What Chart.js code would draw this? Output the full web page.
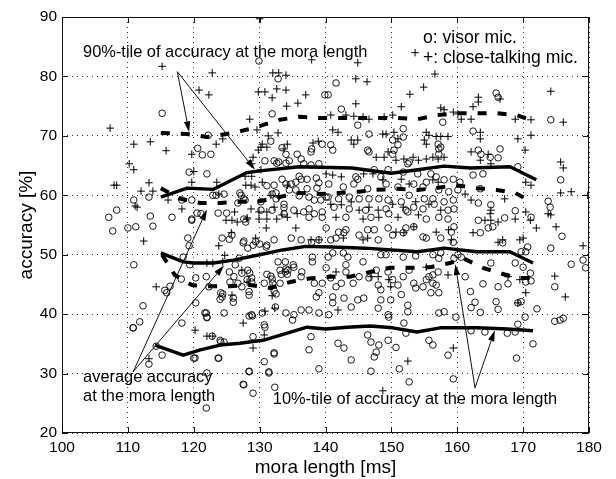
<!DOCTYPE html>
<html>
<head>
<meta charset="utf-8">
<script src="https://cdn.jsdelivr.net/npm/chart.js@4.4.1/dist/chart.umd.min.js"></script>
<style>
  html, body { margin: 0; padding: 0; background: #fff; }
  #c { display: block; }
</style>
</head>
<body>
<canvas id="c" width="616" height="479"></canvas>
<script>
// ---------- axis ticks ----------
const xTicks = [100, 110, 120, 130, 140, 150, 160, 170, 180];
const yTicks = [20, 30, 40, 50, 60, 70, 80, 90];

// ---------- scatter: visor mic (o) as [mora length, accuracy] ----------
const visorPoints = [
[115.2,73.8],[119.3,63.9],[110.9,59.2],[113.2,59.7],[108.3,57.5],[107.1,56.3],[113.4,56.5],[116.7,56.3],[119.7,56],[119.7,59.2],
[129.9,82.6],[122.2,70.1],[120.6,67.9],[121.3,66.8],[122,63.6],[107.7,54],[110,54.5],[111.2,54.7],[113.8,54.8],[118.2,59.2],
[122.9,60],[127,60.4],[119.7,55.8],[120.5,57],[123.7,57],[125,57],[126.7,58.7],[127.8,59.2],[131.1,61.6],[131.9,60.2],
[132.5,60.4],[130.8,65.8],[131.7,69.1],[131.9,73.7],[132.8,79.6],[133.4,68],[134,66.9],[134.5,65.8],[132.9,65.6],[139.9,76.9],
[137.8,67.3],[137.9,67.8],[139.5,68.6],[122.6,66.9],[132.2,65.8],[132.6,65.4],[134,65.4],[135.7,66.9],[136.3,66.1],[136.7,65.3],
[137.8,65.1],[139,65.3],[136,63.2],[136.3,62.7],[135.5,62.2],[137.2,62.7],[138.6,62.9],[139,62.1],[133.4,62.7],[134,61.9],
[134.8,61.9],[132.2,61.7],[134.5,60.9],[135.5,60.9],[137.2,61.1],[138.7,61.2],[136,59.9],[137.5,59.7],[138.3,59.2],[139.3,59.2],
[140.1,59.7],[123.4,60],[124.6,60.2],[127.2,60],[127.6,59.4],[130.2,58.9],[132.5,59.4],[133.7,58.5],[130.2,57.5],[131.9,57.5],
[133.7,57.9],[133.7,56.9],[135.2,57.5],[136.7,57.2],[137.5,57.7],[138.3,56.9],[139.5,57.2],[139.5,56.3],[137.5,56.3],[121.1,56.9],
[127.6,56],[127.9,55.5],
[141.6,78.9],[140.4,76.9],[142.4,74.5],[144.9,71.8],[151.8,71.2],[157.8,72.3],[146.6,70.3],[151.8,69.8],[150.2,69.3],[157.1,68.6],
[157.2,67.8],[140.8,68.5],[141.1,67.6],[146.4,67.6],[146.6,67.3],[150.2,66.9],[151,68.5],[150.4,67.6],[152.5,65.3],[152.7,65.6],
[157.2,66.9],[157.5,68.1],[147.4,64.3],[149.5,64.3],[151.8,63.9],[154,63.6],[156,63.6],[156.8,63.1],[158,62.6],[159.4,62.7],
[144.6,63.1],[144.9,62.7],[148.4,63.1],[140.5,61.9],[142.7,61.4],[144.3,61.9],[146.4,61.1],[149.2,61.9],[151,61.4],[153.4,61.9],
[154.8,61.4],[155.3,62.2],[157.2,60.9],[158.7,60.6],[140.4,59.7],[142,59.4],[143.6,59.7],[145.1,59.4],[146.6,59.4],[148.1,59.4],
[149.5,59.2],[151.5,58.9],[152.7,60],[155,59.4],[156.3,59.4],[158,58.9],[159.4,59.2],[141.3,58],[143.6,57.7],[146.1,57.5],
[149.2,57.7],[152.2,57.5],[154.8,57.7],[156.5,58.5],[158.6,57.5],[159.5,57.7],[143.1,56.3],[146.9,56.3],[149.6,56.9],[152.5,57.2],
[153.4,58],[155.3,56],[157.2,56.3],[158.6,56],
[165.9,77.2],[166.2,76.5],[174.2,72.7],[162.4,70.8],[163.2,67.6],[166.5,67.8],[165,66.4],[166.2,66.3],[163.6,66.9],[175.7,62.6],
[162.4,63.4],[163.9,63.6],[169.2,64.8],[160.4,62.2],[160.1,60.9],[163.5,61.1],[163.2,58.7],[165.1,58.4],[168.8,57.4],[171.2,56.3],
[173.8,59],[174.1,58],[163.2,55.8],[167.2,56.2],
[119.1,52.8],[119.3,51.5],[118.4,49.6],[119.4,48.3],[110.9,48.3],[118.1,45.9],[115.6,44],[116.4,44.7],[115.9,43.6],[112.3,41.4],
[111.8,38.7],[110.8,37.7],[118.2,38.5],[114.3,34.6],[115.2,33.1],[113.2,31.6],[120.3,41.9],[120.2,32.6],[121.7,40.2],[122,39.5],
[121.9,24.2],[122,30.1],[123.7,32.6],[124,35.6],[124.6,40.2],[124.4,43.4],[124,42.5],[126,42.7],[126,42],[125.5,45.4],
[126.7,45.2],[127.5,28.2],[128.4,30.4],[129,26.7],[129,36.2],[128.4,39.7],[128.9,39.7],[128.4,43.2],[131.4,30.1],[132.2,33.3],
[132.3,27.7],[130.7,32],[130.8,37.8],[132.4,41.2],[128.8,45.4],[128.8,46.1],[128.5,46.9],[127.3,46.9],[128.2,47.4],[132,45.2],
[133.1,45.2],[131.9,45.9],[133.1,47.4],[133.9,47.1],[134.3,47.4],[135.1,48.3],[133.9,48.8],[132.8,48.8],[126.3,48.3],[126.9,49.4],
[127.5,52],[129,51.6],[130,51.8],[131.1,51.6],[128.2,51.1],
[124.3,52.8],[125.4,52.6],[125.8,53.3],[127.6,52.3],[129.4,52.2],[131,51.3],[132.2,52.5],[134.8,52.8],[136.3,52.5],[137.9,52.1],
[139,52.5],[120.3,46.1],[121.9,46.3],[122.3,44.6],[124.1,43.6],[124.3,42.9],[125.4,47.1],[126.1,46.3],[127.3,44.6],[128.1,45.8],
[128.4,43.8],[130.7,45.2],[131.1,46.7],[131.7,46.4],[132.2,43.9],[132.5,43.4],[133.3,46.7],[134.2,46.7],[134,47.6],[135.2,47.9],
[136.3,46.3],[136.4,47.1],[138,49.6],[138,48.8],[138.3,45.2],[138.6,42.9],[139,43.6],[139.5,45.2],[121.9,40.2],[122,39.4],
[128.8,39.9],[130.4,40.2],[134,40.2],[135,39],[135.2,39.9],[136.3,40.7],[137.5,40.7],[139,40.2],[130.7,38.2],[132.2,33.5],
[131.4,30.3],[128.4,30.3],[127.6,28.1],[123.8,32.6],[137.5,34],[137.8,36.2],[139,30.8],[122.8,36.3],[124.6,35.3],[124.1,35.3],
[120,32.6],[110.8,37.7],
[140.1,54.5],[140.8,52.5],[141.6,52.8],[142.8,53.7],[143.1,54.2],[142,53.8],[145.1,53.3],[146.4,54.2],[147.4,54.2],[148,52.5],
[149.5,54.5],[150.2,53.3],[151.8,53.7],[152.2,54.5],[153.4,54.7],[154.8,53],[155.3,52.8],[157.5,52.8],[159.1,53.8],[159.4,52.1],
[159.5,54.7],[140.4,49.6],[141.1,50.3],[142.7,50.3],[143.4,49.6],[145.7,48.8],[148.4,50],[149.2,50],[151.8,49.6],[153.7,49.8],
[156.3,50],[157.2,49.4],[157.5,50.3],[159.5,49.4],[160.1,50],[140.1,47.8],[140.8,46.1],[141.6,44.6],[142.4,45.2],[143.1,48.3],
[143.1,47.1],[144.2,45.2],[145.1,46.3],[146.6,46.1],[147.7,47.4],[148,44.9],[148.4,44.1],[149.5,47.1],[150.2,45.8],[151,44.9],
[151.8,46.3],[151.5,43.3],[152.7,47.4],[153.4,45.2],[153.7,44.4],[154.8,44.6],[155.3,45.8],[155.7,46.3],[156.3,46.6],[156.3,45.2],
[156.8,44.9],[157.2,43.6],[156,43.6],[157.1,47.1],[141.1,42.9],[141.1,41.9],[140.5,39.9],[142.8,42.7],[143.9,41.2],[144.9,42.4],
[145.8,42.7],[148,41],[148.4,42.4],[149.9,42.4],[152.5,41.5],[152.5,40.4],[149.5,39.9],[149.6,39.5],[157.2,40.2],[158,40.4],
[159.8,39.5],[141.9,35.1],[142.8,34.3],[143.9,32.3],[146.4,36.5],[146.9,35.3],[147.4,32.8],[147.7,33.6],[148.1,34.8],[149.5,35.6],
[150.7,34.4],[151.9,38.5],[152.2,36.8],[151.2,30.8],[146.9,30.4],[152.7,28.6],[155.7,35.6],[156.3,34.8],[158.6,33.1],[159.4,29.1],
[163.5,53.7],[164.7,54.5],[165.4,54.7],[166.9,52],[169.7,50.5],[170.4,50.5],[170.7,51.3],[174.2,51.1],[175.9,53.1],[179.1,49.1],
[179.5,47.8],[177.3,48.4],[160.6,49.6],[165.1,48.6],[168.8,48.6],[170,47.9],[171.1,46.9],[161.2,46.3],[163.9,45.1],[166.2,44.6],
[167.7,45.1],[170.4,45.4],[171.2,45.6],[174.8,44.6],[162,43.8],[162.1,41.1],[162.7,42],[163.5,40.3],[165.9,42.1],[166.2,40.8],
[169.2,41.9],[169.7,42.1],[172.1,40.9],[170.3,39.5],[169.2,38.3],[174.8,38.8],[175.6,39],[176.1,39.3],[162.1,37.2],[164.2,37],
[167.6,36.8],[168.8,37],[171.5,35],[169,32.6]
];

// ---------- scatter: close-talking mic (+) ----------
const closePoints = [
[115.2,81.7],[107.3,71.3],[110.9,68.6],[113.4,69],[115.8,67.5],[119.7,66.9],[110.2,65.3],[110.9,64.3],[120,64],[107.9,61.7],
[108.3,61.7],[113.2,62.1],[112,60.7],[113.8,60.7],[111.1,58.2],[111.4,58],[118.2,57.7],[116.1,59.2],[120.8,77.7],[122.3,76.9],
[122.8,80.6],[130,89.7],[123.4,68.6],[119.7,62.2],[123.5,62.2],[123.8,60.2],[125.8,55.8],[126.6,55.5],[128.1,56.2],[126.2,57.2],
[129.3,61.4],[130.4,62.2],[128.8,65.3],[129,66.4],[129.8,67.6],[130.2,68.1],[131.1,68.1],[129.8,77.4],[130.8,77.4],[132.6,77.9],
[134,77.7],[131.9,76.4],[134.1,75],[135.8,75.5],[137,76.9],[132,80.6],[132.9,80.6],[134,80.2],[128.5,72.8],[129.6,71],
[131.3,70],[132.8,70.5],[124.4,69.5],[130.4,68.6],[134.2,68.6],[133.7,67.8],[138.1,68.8],[138.9,69.1],[127.8,63.2],[128.8,63.2],
[130.2,64.3],[127.9,61.7],[128.7,61.7],[131.7,60],[132.9,59.7],[134.2,61.7],[128.7,57.7],[129.9,57.2],[131.1,57.2],[132.2,58],
[124.9,55.8],[128.1,56],[129.9,56],[131.1,56],[132.6,56],[134.2,56.3],[135.7,56.9],[133.4,56.7],
[144.9,82.3],[144.6,79.6],[146.3,79.1],[156.6,80.4],[154.9,78.2],[152.8,77],[144.6,75.4],[151.5,74.9],[140.8,73.5],[143.1,73.5],
[144.3,73.3],[145.7,73.2],[146.6,72.8],[148.9,73.2],[150.2,73.5],[157.5,74.7],[158,74.4],[159.4,74],[160.1,73.7],[141.1,71],
[141.9,70.6],[143.9,69.3],[144.9,69.3],[144.3,68.6],[148.7,70.3],[149.2,70.3],[150.4,70.6],[151,69.5],[155.3,70.6],[155.7,70.1],
[156.8,69.9],[157.5,69.9],[158.6,69.9],[155,69.3],[155.3,68.6],[147.7,66.4],[148.9,66.4],[149.5,67.3],[150.7,65.9],[151.9,66.1],
[153.3,66.4],[154.1,65.9],[155.3,66.1],[156.3,66.4],[157.1,66.1],[158,66.4],[140.1,63.6],[141.1,63.4],[142.4,63.1],[145.8,63.6],
[147.2,63.6],[148.7,62.6],[151.5,62.7],[152.7,61.9],[156.3,62.6],[157.1,62.2],[140.8,58.5],[142.4,58.4],[143.9,58.9],[145.1,57.5],
[146.6,58],[148,57.5],[150.2,58.5],[151.8,58],[153.7,58.9],[155.7,58.5],[157.5,57.5],[141.6,56.3],[145.7,56],[148.1,56.3],
[151,56.3],[154.1,56.7],[153.6,84],[137.9,82.8],
[174.2,77.5],[166.5,76.2],[163.2,76.5],[162.4,74.9],[163.2,75.7],[176.1,72.3],[168.8,72.8],[171.2,72.7],[160.6,72.8],[162.1,72.8],
[163.5,70.6],[163.5,69.5],[169.2,69.5],[171.2,70.1],[162.1,67.3],[164.7,66.9],[170.3,67.6],[163.5,65.9],[165.1,65.3],[175.7,65.6],
[176.1,64.6],[170.4,62.2],[171.2,61.7],[175.7,60.4],[177.3,60.6],[179.8,60],[161.2,60.2],[162.1,59.2],[167.2,59.4],[165.1,57.5],
[165,56.9],[170.4,57.2],[173.8,56.9],[174.2,56.7],[168.8,56],[171.1,55.8],[164.2,55.8],[165.1,55.8],[166.2,55.5],
[112.4,52.3],[114.3,44.6],[113.2,32.5],[120.2,37.3],[122,36.3],[122.9,36.3],[125.8,43.2],[129,34.3],[127.5,38.5],[130.8,40.5],
[132.3,41],[128.1,45.4],[131.9,44.6],[131.9,43.1],[127.3,47.4],[124.4,48.8],[124.7,49.9],[123.8,51.5],[125.7,53.7],[129.4,52.8],
[131,54.5],[135.5,54.5],[137.8,52.5],[139,52.5],[130.7,36.5],[122,48.6],[122.9,48.6],[142.7,52.8],[145.7,52.5],[146.4,52.8],
[150.7,53.8],[151.9,53.7],[153.4,54.7],[156.8,53.8],[158.7,54.2],[159.1,52.5],[141.6,47.1],[146.9,46.3],[148,46.3],[149.6,45.8],
[149.9,44.6],[155.3,47.9],[158.6,46.6],[141.9,40.7],[152.5,32.1],[159.4,34.3],[148.7,27.1],[162.4,53.7],[166.2,52.1],[166.9,52.5],
[169.5,52.5],[170,52.8],[172,54.5],[175,54.7],[179.1,51.5],[167.7,46.3],[169.5,45.8],[170.4,43.6],[174.8,46.4],[176.4,42.9],
[169.2,41.9]
];

// ---------- percentile / average curves ----------
const visor90X  = [115, 119, 123, 128, 130, 136, 144, 150, 154, 158, 162, 168, 172];
const visor90Y  = [59.7, 61.2, 61.0, 63.8, 64.1, 64.8, 64.6, 63.7, 64.3, 64.9, 64.6, 64.8, 62.6];
const close90X  = [115, 119, 122, 126, 129, 133, 136, 139, 142, 145, 148, 151, 154, 157, 160, 163, 166, 169, 171.5];
const close90Y  = [70.5, 70.3, 69.8, 70.5, 71.3, 72.7, 73.2, 73.0, 73.0, 73.0, 73.0, 73.0, 72.8, 73.5, 73.8, 73.8, 73.8, 73.5, 72.5];
const visorAvgX = [115, 118.4, 120, 123, 126, 130, 133.5, 137, 141, 146, 154, 158, 163, 168, 171.5];
const visorAvgY = [50.3, 48.8, 48.6, 48.6, 49.1, 50.0, 50.8, 51.4, 51.3, 51.1, 50.5, 51.1, 50.5, 50.5, 48.6];
const closeAvgX = [115, 118, 121, 124, 127, 130, 133, 136, 139, 142, 145, 147.5, 151, 154, 156.6, 159.7, 163, 166, 168.8, 171.5];
const closeAvgY = [61.2, 59.4, 58.7, 58.7, 58.9, 59.0, 59.7, 60.4, 60.2, 60.4, 60.6, 60.9, 61.1, 60.9, 61.2, 61.7, 61.2, 60.9, 60.4, 58.7];
const visor10X  = [114.1, 118.4, 121, 124, 127, 130.5, 134.2, 137.2, 140, 143.3, 146.8, 150.2, 153.9, 157.4, 163, 167.6, 171.5];
const visor10Y  = [34.8, 33.1, 34.0, 34.8, 35.1, 35.6, 36.8, 37.8, 37.5, 37.8, 38.0, 37.7, 37.0, 37.7, 37.7, 37.5, 37.2];
const close10X  = [115.2, 117.1, 119.7, 122.2, 125.5, 128.5, 131.6, 134.6, 137.5, 140.7, 143.7, 146.8, 149.8, 152.8, 155.9, 158.9, 160.9, 163.9, 166.5, 169, 171.2];
const close10Y  = [50.0, 46.6, 44.9, 44.7, 44.7, 44.9, 44.4, 45.4, 46.0, 46.3, 46.3, 47.1, 47.8, 47.8, 47.9, 48.6, 49.4, 47.8, 46.9, 46.1, 46.1];

// ---------- annotation texts ----------
const legendLines = ['o: visor mic.', '+: close-talking mic.'];
const note90 = '90%-tile of accuracy at the mora length';
const noteAvg = ['average accuracy', 'at the mora length'];
const note10 = '10%-tile of accuracy at the mora length';

const FONT = '"Liberation Sans", Arial, Helvetica, sans-serif';
const toXY = (xs, ys) => xs.map((x, i) => ({ x: x, y: ys[i] }));
const toPts = arr => arr.map(p => ({ x: p[0], y: p[1] }));

function lineDs(xs, ys, dashed) {
  return {
    data: toXY(xs, ys), showLine: true, pointRadius: 0, borderColor: '#000',
    borderWidth: dashed ? 4 : 3.4, borderDash: dashed ? [9, 11] : [],
    borderCapStyle: 'butt', borderJoinStyle: 'round', tension: 0, fill: false, order: 0
  };
}

// annotation plugin: box, inward ticks, texts, arrows
const annot = {
  id: 'annot',
  afterDraw(chart) {
    const { ctx, chartArea: a, scales: { x, y } } = chart;
    ctx.save();
    // frame
    ctx.strokeStyle = '#111';
    ctx.lineWidth = 1;
    ctx.setLineDash([]);
    ctx.strokeRect(a.left + 0.5, a.top + 0.5, a.right - a.left - 1, a.bottom - a.top - 1);
    // inward ticks
    const tl = 6;
    ctx.beginPath();
    xTicks.forEach(v => {
      const px = Math.round(x.getPixelForValue(v)) + 0.5;
      ctx.moveTo(px, a.bottom); ctx.lineTo(px, a.bottom - tl);
      ctx.moveTo(px, a.top); ctx.lineTo(px, a.top + tl);
    });
    yTicks.forEach(v => {
      const py = Math.round(y.getPixelForValue(v)) + 0.5;
      ctx.moveTo(a.left, py); ctx.lineTo(a.left + tl, py);
      ctx.moveTo(a.right, py); ctx.lineTo(a.right - tl, py);
    });
    ctx.stroke();

    const P = (dx, dy) => [x.getPixelForValue(dx), y.getPixelForValue(dy)];
    // texts
    ctx.fillStyle = '#000';
    ctx.textBaseline = 'middle';
    ctx.textAlign = 'left';
    ctx.font = '16.4px ' + FONT;
    let p = P(103.2, 84.1); ctx.fillText(note90, p[0], p[1]);
    p = P(103.2, 29.3); ctx.fillText(noteAvg[0], p[0], p[1]);
    p = P(103.2, 26.1); ctx.fillText(noteAvg[1], p[0], p[1]);
    p = P(132.0, 25.6); ctx.fillText(note10, p[0], p[1]);
    ctx.font = '17.6px ' + FONT;
    p = P(154.8, 86.5); ctx.fillText(legendLines[0], p[0], p[1]);
    p = P(154.8, 83.1); ctx.fillText(legendLines[1], p[0], p[1]);

    // arrows
    function arrow(fx, fy, tx, ty) {
      const [x0, y0] = P(fx, fy), [x1, y1] = P(tx, ty);
      const ang = Math.atan2(y1 - y0, x1 - x0);
      const L = 11, W = 3.2;
      const bx = x1 - L * Math.cos(ang), by = y1 - L * Math.sin(ang);
      ctx.beginPath();
      ctx.lineWidth = 1;
      ctx.moveTo(x0, y0); ctx.lineTo(bx, by);
      ctx.stroke();
      ctx.beginPath();
      ctx.moveTo(x1, y1);
      ctx.lineTo(bx + W * Math.sin(ang), by - W * Math.cos(ang));
      ctx.lineTo(bx - W * Math.sin(ang), by + W * Math.cos(ang));
      ctx.closePath();
      ctx.fill();
    }
    arrow(117.5, 80.8, 119.3, 70.6);
    arrow(117.5, 80.8, 129.3, 64.3);
    arrow(110.8, 30.3, 122.0, 57.6);
    arrow(110.8, 30.3, 124.6, 48.2);
    arrow(162.7, 27.6, 159.7, 48.4);
    arrow(162.7, 27.6, 165.7, 37.3);
    ctx.restore();
  }
};

new Chart(document.getElementById('c').getContext('2d'), {
  type: 'scatter',
  data: {
    datasets: [
      lineDs(visor90X, visor90Y, false),
      lineDs(close90X, close90Y, true),
      lineDs(visorAvgX, visorAvgY, false),
      lineDs(closeAvgX, closeAvgY, true),
      lineDs(visor10X, visor10Y, false),
      lineDs(close10X, close10Y, true),
      { data: toPts(visorPoints), pointStyle: 'circle', pointRadius: 3.3, borderColor: '#000',
        backgroundColor: 'rgba(0,0,0,0)', borderWidth: 0.9, order: 1 },
      { data: toPts(closePoints), pointStyle: 'cross', pointRadius: 3.8, borderColor: '#000',
        backgroundColor: '#000', borderWidth: 1, order: 1 }
    ]
  },
  options: {
    responsive: false,
    animation: false,
    events: [],
    layout: { padding: { top: 17, right: 27, left: 0, bottom: 0 } },
    plugins: { legend: { display: false }, tooltip: { enabled: false } },
    scales: {
      x: {
        type: 'linear', min: 100, max: 180,
        afterBuildTicks: s => { s.ticks = xTicks.map(v => ({ value: v })); },
        afterFit: s => { s.height = 46; },
        grid: { color: '#333', lineWidth: 1, drawTicks: false },
        border: { display: false, dash: [1, 4] },
        ticks: { color: '#000', padding: 5, font: { family: FONT, size: 15.5 }, maxRotation: 0 },
        title: { display: true, text: 'mora length [ms]', color: '#000',
                 font: { family: FONT, size: 19 }, padding: { top: 0, bottom: 0 } }
      },
      y: {
        type: 'linear', min: 20, max: 90,
        afterBuildTicks: s => { s.ticks = yTicks.map(v => ({ value: v })); },
        afterFit: s => { s.width = 62; },
        grid: { color: '#333', lineWidth: 1, drawTicks: false },
        border: { display: false, dash: [1, 4] },
        ticks: { color: '#000', padding: 5, font: { family: FONT, size: 15.5 } },
        title: { display: true, text: 'accuracy [%]', color: '#000',
                 font: { family: FONT, size: 19 }, padding: { top: 15, bottom: 0 } }
      }
    }
  },
  plugins: [annot]
});
</script>
</body>
</html>
